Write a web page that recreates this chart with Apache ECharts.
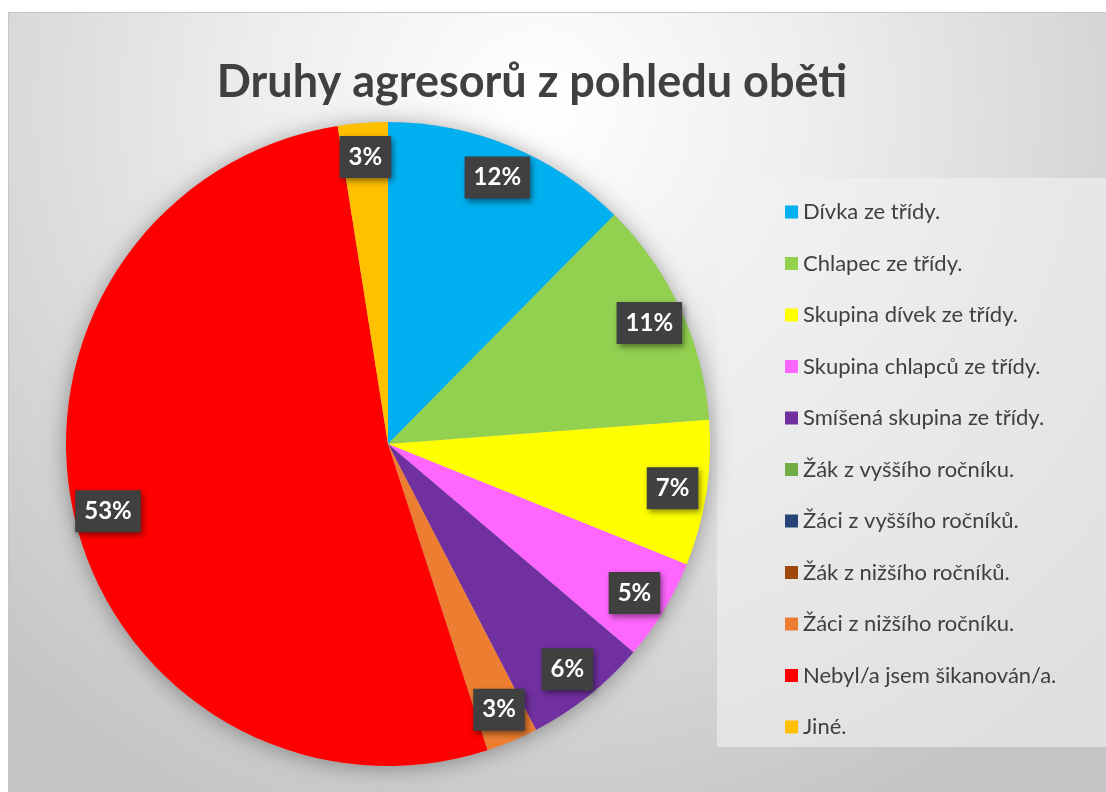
<!DOCTYPE html>
<html>
<head>
<meta charset="utf-8">
<script src="https://cdn.jsdelivr.net/npm/echarts@6/dist/echarts.min.js"></script>
<style>
  html, body { margin: 0; padding: 0; background: #ffffff; }
  #chart { width: 1106px; height: 792px; }
</style>
</head>
<body>
<div id="chart"></div>
<script>
// kategorie (legenda)
var categories = [
    'Dívka ze třídy.',
    'Chlapec ze třídy.',
    'Skupina dívek ze třídy.',
    'Skupina chlapců ze třídy.',
    'Smíšená skupina ze třídy.',
    'Žák z vyššího ročníku.',
    'Žáci z vyššího ročníků.',
    'Žák z nižšího ročníků.',
    'Žáci z nižšího ročníku.',
    'Nebyl/a jsem šikanován/a.',
    'Jiné.'
];
// podíly v procentech
var values = [12.4, 11.4, 7.3, 5.1, 6.2, 0, 0, 0, 2.6, 52.5, 2.5];
var colors = ['#00b0f0', '#92d050', '#ffff00', '#ff66ff', '#7030a0', '#70ad47',
              '#264478', '#9e480e', '#ed7d31', '#ff0000', '#ffc000'];

var myChart = echarts.init(document.getElementById('chart'));

var pieData = categories.map(function (name, i) {
    return { name: name, value: values[i], itemStyle: { color: colors[i] } };
});
// popisky - průhledný prstenec, aby byly blíž k okraji
var labelData = categories.map(function (name, i) {
    return {
        name: name,
        value: values[i],
        label: { show: values[i] > 0 }
    };
});

var center = [388, 444];
var R = 322;

var option = {
    animation: false,
    graphic: [
        {
            type: 'rect',
            z: -10,
            shape: { x: 8.5, y: 12.5, width: 1100, height: 782 },
            style: {
                fill: {
                    type: 'radial', x: 0.48, y: 0.12, r: 1.0,
                    colorStops: [
                        { offset: 0, color: '#ffffff' },
                        { offset: 0.35, color: '#eeeeee' },
                        { offset: 1, color: '#c4c4c4' }
                    ]
                },
                stroke: '#c6c6c6',
                lineWidth: 1
            },
            silent: true
        },
        {
            // pozadí legendy
            type: 'rect',
            z: -9,
            shape: { x: 717, y: 178, width: 389, height: 569 },
            style: { fill: 'rgba(242,242,242,0.6)' },
            silent: true
        }
    ],
    title: {
        text: 'Druhy agresorů z pohledu oběti',
        left: 527,
        textAlign: 'center',
        top: 55,
        textStyle: {
            fontFamily: 'Lato',
            fontWeight: 'bold',
            fontSize: 45,
            color: '#404040'
        }
    },
    legend: {
        orient: 'vertical',
        left: 780,
        top: 196,
        data: categories,
        icon: 'rect',
        itemWidth: 13,
        itemHeight: 13,
        itemGap: 29.5,
        selectedMode: false,
        textStyle: {
            fontFamily: 'Lato',
            fontSize: 22,
            lineHeight: 22,
            color: '#404040'
        }
    },
    series: [
        {
            // stín pod koláčem
            type: 'pie',
            silent: true,
            center: center,
            radius: R,
            z: 1,
            label: { show: false },
            labelLine: { show: false },
            itemStyle: {
                color: '#bbbbbb',
                shadowBlur: 22,
                shadowColor: 'rgba(0,0,0,0.35)',
                shadowOffsetY: 2
            },
            data: [{ name: '_shadow', value: 1 }]
        },
        {
            type: 'pie',
            center: center,
            radius: R,
            z: 2,
            startAngle: 90,
            label: { show: false },
            labelLine: { show: false },
            emphasis: { disabled: true },
            data: pieData
        },
        {
            type: 'pie',
            silent: true,
            center: center,
            radius: [R * 0.77, R],
            z: 3,
            startAngle: 90,
            itemStyle: { color: 'rgba(0,0,0,0)' },
            emphasis: { disabled: true },
            labelLine: { show: false },
            label: {
                position: 'inside',
                formatter: function (p) {
                    return Math.round(p.value) + '%';
                },
                fontFamily: 'Lato',
                fontWeight: 'bold',
                fontSize: 24,
                color: '#ffffff',
                backgroundColor: '#404040',
                padding: [10, 9, 8, 9],
                shadowBlur: 6,
                shadowColor: 'rgba(0,0,0,0.45)',
                shadowOffsetX: 2,
                shadowOffsetY: 3
            },
            data: labelData
        }
    ]
};

myChart.setOption(option);
window.addEventListener('resize', function () {
    myChart.resize();
});
</script>
</body>
</html>
